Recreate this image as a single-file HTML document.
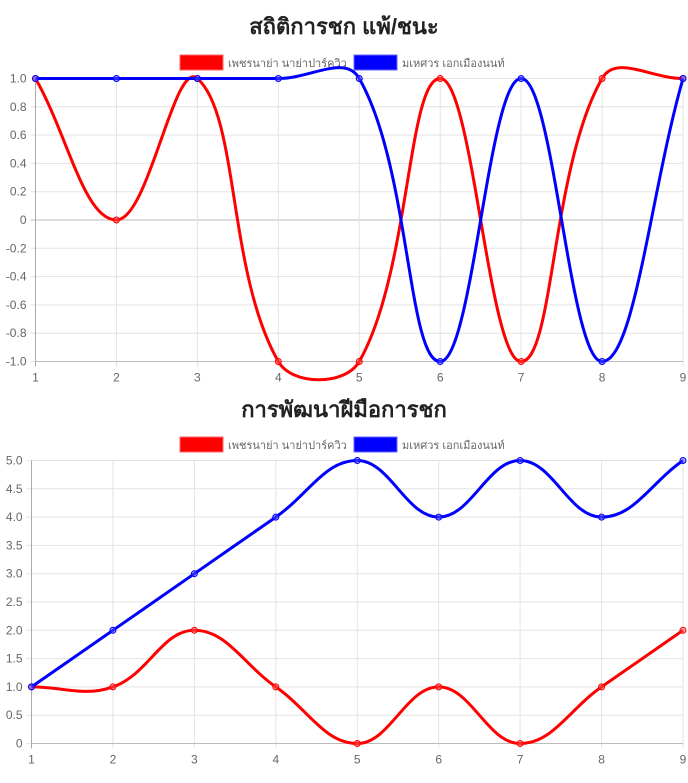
<!DOCTYPE html>
<html><head><meta charset="utf-8"><style>
body{margin:0;background:#fff;width:688px;height:778px;overflow:hidden;font-family:"Liberation Sans","Noto Sans CJK SC",sans-serif}
svg text{font-family:"Liberation Sans","Noto Sans CJK SC",sans-serif}
</style></head><body>
<svg id="svg" width="688" height="778"></svg>
<script>
const categories=[1,2,3,4,5,6,7,8,9];
const c1Red=[1,0,1,-1,-1,1,-1,1,1];
const c1Blue=[1,1,1,1,1,-1,1,-1,1];
const c1Ticks=["1.0","0.8","0.6","0.4","0.2","0","-0.2","-0.4","-0.6","-0.8","-1.0"];
const c1TickVals=[1,0.8,0.6,0.4,0.2,0,-0.2,-0.4,-0.6,-0.8,-1];
const c2Red=[1,1,2,1,0,1,0,1,2];
const c2Blue=[1,2,3,4,5,4,5,4,5];
const c2Ticks=["5.0","4.5","4.0","3.5","3.0","2.5","2.0","1.5","1.0","0.5","0"];
const c2TickVals=[5,4.5,4,3.5,3,2.5,2,1.5,1,0.5,0];
const seriesNames=["เพชรนาย่า นาย่าปาร์ควิว","มเหศวร เอกเมืองนนท์"];
const NS="http://www.w3.org/2000/svg";
const svg=document.getElementById('svg');
function mk(t,a,p){const e=document.createElementNS(NS,t);for(const k in a)e.setAttribute(k,a[k]);(p||svg).appendChild(e);return e;}
function path(pts){let d="M"+pts[0][0]+","+pts[0][1];const t=0.4;
 const cps=pts.map((p,i)=>{const pr=pts[Math.max(i-1,0)],nx=pts[Math.min(i+1,pts.length-1)];
  const d01=Math.hypot(p[0]-pr[0],p[1]-pr[1]),d12=Math.hypot(nx[0]-p[0],nx[1]-p[1]);
  let fa=d01/(d01+d12)||0,fb=d12/(d01+d12)||0;fa*=t;fb*=t;
  return {px:p[0]-fa*(nx[0]-pr[0]),py:p[1]-fa*(nx[1]-pr[1]),nx:p[0]+fb*(nx[0]-pr[0]),ny:p[1]+fb*(nx[1]-pr[1])};});
 for(let i=1;i<pts.length;i++){d+=" C"+cps[i-1].nx+","+cps[i-1].ny+" "+cps[i].px+","+cps[i].py+" "+pts[i][0]+","+pts[i][1];}
 return d;}
function chart(o){
 const g=mk('g',{});
 const X=v=>o.x0+(v-categories[0])*(o.x1-o.x0)/(categories[categories.length-1]-categories[0]);
 const Y=v=>o.yTop+(o.max-v)*(o.yBot-o.yTop)/(o.max-o.min);
 const tt=mk('text',{x:344,y:o.titleY,'text-anchor':'middle','font-size':22,'font-weight':'bold',fill:'#222'},g);tt.textContent=o.title;
 
 // legend
 const lx=[180,354];
 seriesNames.forEach((n,i)=>{const lg=mk('g',{},g);
  mk('rect',{x:lx[i],y:o.legY,width:43,height:15,fill:['#f00','#00f'][i],stroke:['#f66','#66f'][i]},lg);
  const t=mk('text',{x:lx[i]+48,y:o.legY+12,'font-size':11,fill:'#666'},lg);t.textContent=n;});
 // grid
 c=o.tickVals;
 o.tickVals.forEach((v,i)=>{const y=Y(v);const ln=mk('line',{x1:o.x0-5,x2:o.x1,y1:y,y2:y,stroke:(v===0&&o.min<0)?'#bbb':'#e3e3e3'},g);
  
  const t=mk('text',{x:o.x0-9,y:y+4,'text-anchor':'end','font-size':12,fill:'#666'},g);t.textContent=o.ticks[i];
  });
 categories.forEach(c=>{const x=X(c);mk('line',{x1:x,x2:x,y1:o.yTop,y2:o.yBot+5,stroke:c===categories[0]?'#aaa':'#e3e3e3'},g);
  const t=mk('text',{x:x,y:o.yBot+20,'text-anchor':'middle','font-size':12,fill:'#666'},g);t.textContent=c;
  });
 mk('line',{x1:o.x0,x2:o.x1,y1:o.yBot,y2:o.yBot,stroke:'#bbb'},g);
 [[o.red,'#f00'],[o.blue,'#00f']].forEach(([d,col],si)=>{
  const pts=d.map((v,i)=>[X(categories[i]),Y(v)]);
  const p=mk('path',{d:path(pts),fill:'none',stroke:col,'stroke-width':3},g);
  
  pts.forEach(q=>{const c=mk('circle',{cx:q[0],cy:q[1],r:3,fill:si?'rgba(80,80,255,0.5)':'rgba(255,80,80,0.5)',stroke:col,'stroke-width':1},g);
   });});
}
chart({name:'win-loss-chart',title:'สถิติการชก แพ้/ชนะ',titleY:34,legY:55,x0:35.5,x1:683,yTop:78.5,yBot:361.5,min:-1,max:1,ticks:c1Ticks,tickVals:c1TickVals,red:c1Red,blue:c1Blue});
chart({name:'skill-chart',title:'การพัฒนาฝีมือการชก',titleY:417,legY:437,x0:31.5,x1:683,yTop:460.5,yBot:743.5,min:0,max:5,ticks:c2Ticks,tickVals:c2TickVals,red:c2Red,blue:c2Blue});
</script></body></html>
